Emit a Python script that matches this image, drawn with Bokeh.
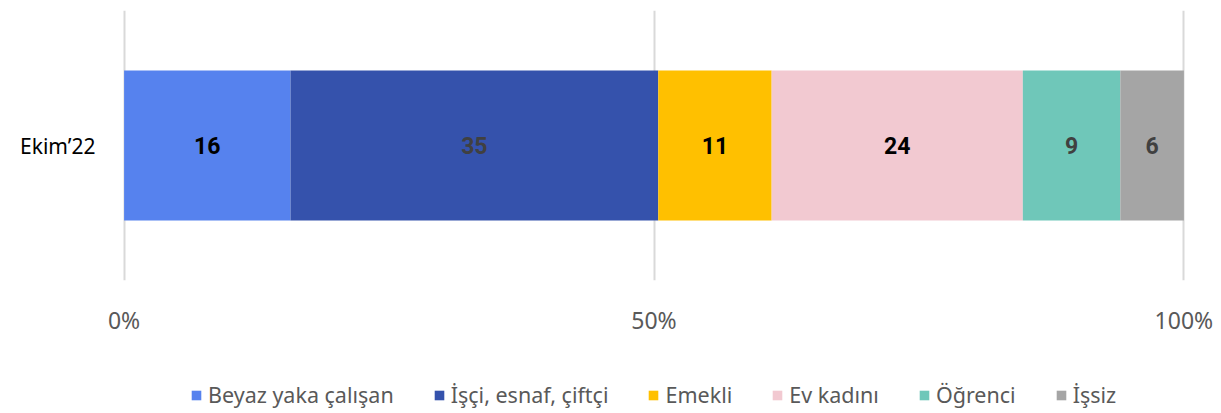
from bokeh.plotting import figure
from bokeh.layouts import column
from bokeh.models import (ColumnDataSource, Legend, LegendItem, FactorRange, Range1d,
                          FixedTicker, CustomJSTickFormatter)
from bokeh.embed import file_html
from bokeh.resources import INLINE
from bokeh.core.properties import value

period = ["Ekim’22"]
groups = ["Beyaz yaka çalışan", "İşçi, esnaf, çiftçi", "Emekli", "Ev kadını", "Öğrenci", "İşsiz"]
shares = [15.7, 34.7, 10.7, 23.7, 9.2, 6.0]
labels = ["16", "35", "11", "24", "9", "6"]
colors = ["#5682EE", "#3552AC", "#FFC000", "#F2C9D1", "#6FC7B9", "#A5A5A5"]
label_colors = ["#000000", "#404040", "#000000", "#000000", "#404040", "#404040"]
x_ticks = [0, 50, 100]

FONT = "Noto Sans"
W = 1216

p = figure(width=W, height=340, output_backend="svg", toolbar_location=None,
           y_range=FactorRange(factors=period, range_padding=0),
           x_range=Range1d(-1, 101),
           min_border_top=10, min_border_left=113, min_border_right=22, min_border_bottom=60)

keys = ["g%d" % i for i in range(len(groups))]
data = {"period": period}
for k, v in zip(keys, shares):
    data[k] = [v]
src = ColumnDataSource(data)
p.hbar_stack(keys, y="period", height=150 / 270, color=colors, source=src, line_width=0)

# data labels at segment centres
starts = []
acc = 0
for v in shares:
    starts.append(acc)
    acc += v
centers = [s + v / 2 for s, v in zip(starts, shares)]
lsrc = ColumnDataSource(dict(x=centers, y=period * len(shares), t=labels, c=label_colors))
p.text(x="x", y="y", text="t", source=lsrc, text_color="c", text_align="center",
       text_baseline="middle", text_font=value("Roboto"), text_font_style="bold",
       text_font_size="23px")

# grid / axes
p.xgrid.ticker = FixedTicker(ticks=x_ticks)
p.xgrid.grid_line_color = "#D9D9D9"
p.xgrid.grid_line_width = 2
p.ygrid.grid_line_color = None
p.outline_line_color = None

p.xaxis.ticker = FixedTicker(ticks=x_ticks)
p.xaxis.formatter = CustomJSTickFormatter(code="return tick + '%';")
p.xaxis.axis_line_color = None
p.xaxis.major_tick_line_color = None
p.xaxis.minor_tick_line_color = None
p.xaxis.major_label_text_font = FONT
p.xaxis.major_label_text_font_size = "23px"
p.xaxis.major_label_text_color = "#595959"
p.xaxis.major_label_standoff = 17

p.yaxis.axis_line_color = None
p.yaxis.major_tick_line_color = None
p.yaxis.minor_tick_line_color = None
p.yaxis.major_label_text_font = FONT
p.yaxis.major_label_text_font_size = "21px"
p.yaxis.major_label_text_color = "#000000"
p.yaxis.major_label_standoff = 12

# legend strip below the chart (its frame is aligned with the chart's frame)
lg = figure(width=W, height=70, output_backend="svg", toolbar_location=None,
            x_range=Range1d(0, 1), y_range=Range1d(0, 1),
            min_border_left=113, min_border_right=22, min_border_top=0, min_border_bottom=0)
lg.axis.visible = False
lg.grid.visible = False
lg.outline_line_color = None
items = []
for g, c in zip(groups, colors):
    # zero-size bar per group, only so that the legend has a coloured swatch
    r = lg.hbar(y=[0.5], left=[0.5], right=[0.5], height=0, fill_color=c,
                line_color=None, line_width=0)
    items.append(LegendItem(label=g, renderers=[r]))
legend = Legend(items=items, orientation="horizontal", location=(77, 1),
                glyph_width=12, glyph_height=12, label_standoff=6, spacing=39,
                label_text_font=FONT, label_text_font_size="21.5px", label_text_color="#595959",
                padding=0, margin=0, border_line_color=None, background_fill_alpha=0)
lg.add_layout(legend, "center")

layout = column(p, lg, spacing=0)
open("out.html", "w").write(file_html(layout, INLINE))
